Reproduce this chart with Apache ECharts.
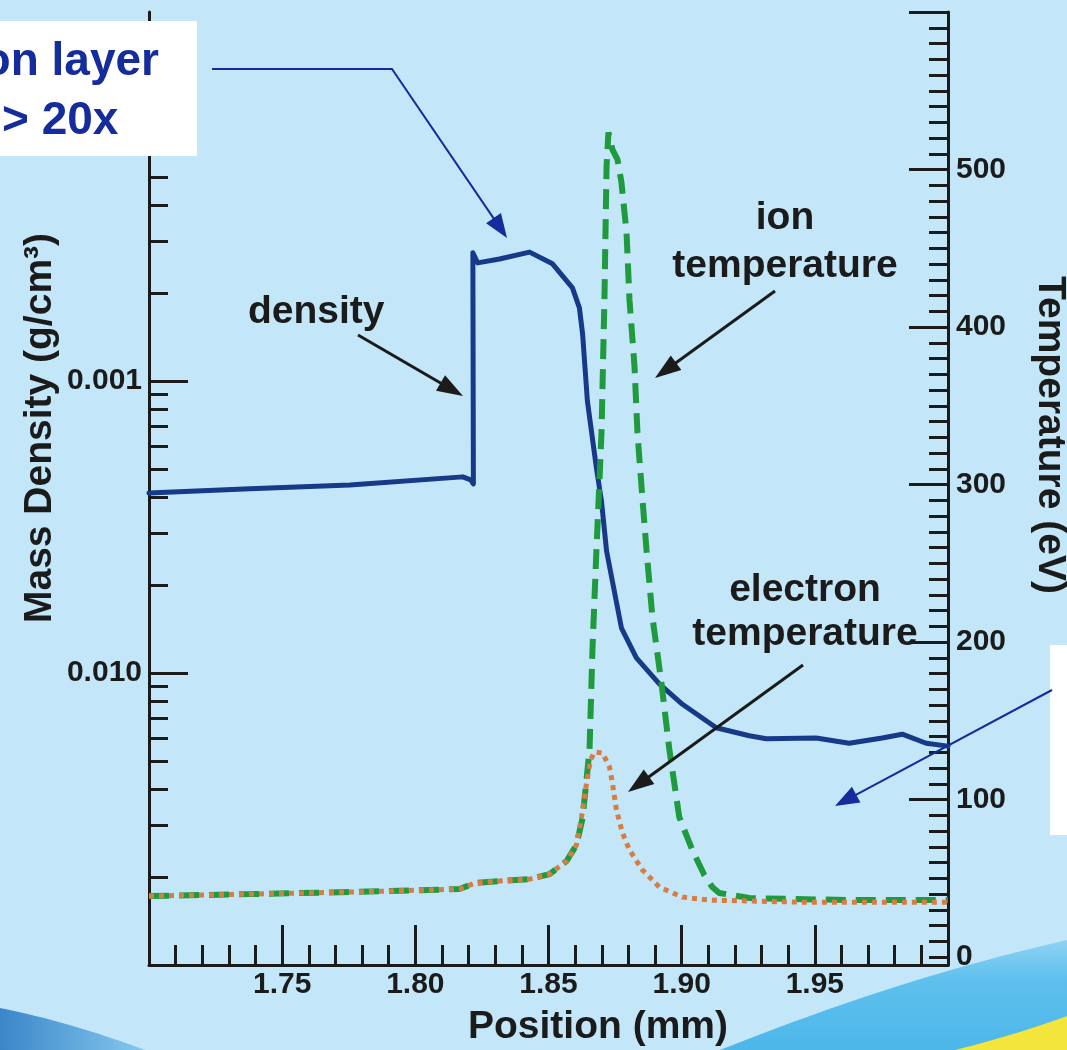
<!DOCTYPE html>
<html>
<head>
<meta charset="utf-8">
<script src="https://cdn.jsdelivr.net/npm/echarts@6/dist/echarts.min.js"></script>
<style>
  html, body { margin: 0; padding: 0; background: #c3e7f8; }
  #chart { width: 1067px; height: 1050px; }
</style>
</head>
<body>
<div id="chart"></div>
<script>
// position (mm) and mass density (g/cm3)
const densityPos = [1.7000, 1.7379, 1.7754, 1.8178, 1.8208, 1.8218, 1.8216, 1.8234, 1.8316, 1.8429,
  1.8515, 1.8590, 1.8616, 1.8628, 1.8646, 1.8680, 1.8699, 1.8718, 1.8774, 1.8830,
  1.8916, 1.9003, 1.9130, 1.9254, 1.9318, 1.9505, 1.9629, 1.9753, 1.9828, 1.9918, 2.0000];
const densityVal = [2.42e-3, 2.34e-3, 2.27e-3, 2.13e-3, 2.18e-3, 2.25e-3, 3.64e-4, 3.94e-4, 3.82e-4, 3.62e-4,
  3.97e-4, 4.80e-4, 5.62e-4, 6.90e-4, 1.17e-3, 1.99e-3, 2.58e-3, 3.82e-3, 7.02e-3, 8.88e-3,
  1.09e-2, 1.28e-2, 1.54e-2, 1.64e-2, 1.68e-2, 1.67e-2, 1.74e-2, 1.67e-2, 1.62e-2, 1.74e-2, 1.78e-2];

// ion temperature (eV)
const ionPos = [1.7000, 1.7379, 1.7754, 1.8166, 1.8223, 1.8316, 1.8429, 1.8504, 1.8568, 1.8605,
  1.8628, 1.8654, 1.8665, 1.8680, 1.8691, 1.8699, 1.8710, 1.8718, 1.8725, 1.8740,
  1.8759, 1.8774, 1.8793, 1.8804, 1.8823, 1.8834, 1.8853, 1.8868, 1.8890, 1.8924,
  1.8954, 1.8991, 1.9040, 1.9085, 1.9115, 1.9141, 1.9254, 1.9629, 2.0000];
const ionTemp = [38.8, 40.0, 41.3, 43.2, 47.0, 48.3, 49.5, 52.7, 61.0, 71.2,
  88.3, 131.5, 195.0, 258.6, 301.1, 332.9, 417.4, 501.9, 523.5, 512.7,
  506.4, 491.7, 459.9, 417.4, 374.8, 332.9, 290.3, 258.6, 216.0, 174.1,
  131.5, 88.9, 68.0, 52.1, 44.5, 40.7, 37.5, 36.2, 36.2];

// electron temperature (eV)
const elecPos = [1.7000, 1.7379, 1.7754, 1.8166, 1.8223, 1.8316, 1.8429, 1.8504, 1.8568, 1.8605,
  1.8624, 1.8643, 1.8658, 1.8673, 1.8703, 1.8729, 1.8740, 1.8755, 1.8778, 1.8804,
  1.8853, 1.8916, 1.9003, 1.9104, 1.9441, 2.0000];
const elecTemp = [38.8, 40.0, 41.3, 43.2, 47.0, 48.3, 49.5, 52.7, 61.0, 71.2,
  88.9, 110.5, 125.2, 130.2, 129.6, 120.7, 110.5, 93.4, 78.8, 68.0,
  55.3, 44.5, 38.1, 36.2, 34.9, 34.9];

// axis ticks / labels
const densityLabels = [0.001, 0.01];
const densityMajor = [0.0001, 0.001, 0.01];
const densityMinor = [];
[0.001, 0.01, 0.1].forEach(top => {
  for (let k = 2; k <= 9; k++) densityMinor.push(top / k);
});
const tempLabels = [0, 100, 200, 300, 400, 500];
const tempMajor = [100, 200, 300, 400, 500, 600];
const tempMinor = [];
for (let t = 0; t < 600; t += 10) if (t % 100 !== 0 || t === 0) tempMinor.push(t);

const FONT = '"Liberation Sans", Arial, Helvetica, sans-serif';
const INK = '#1b1b1b';
const NAVY = '#152c9c';

const zip = (a, b) => a.map((v, i) => [v, b[i]]);

function arrow(pts, color, lw, headLen, headHalf) {
  const n = pts.length;
  const [x1, y1] = pts[n - 2], [x2, y2] = pts[n - 1];
  const L = Math.hypot(x2 - x1, y2 - y1);
  const ux = (x2 - x1) / L, uy = (y2 - y1) / L;
  const bx = x2 - ux * headLen, by = y2 - uy * headLen;
  const linePts = pts.slice(0, n - 1).concat([[bx + ux * 3, by + uy * 3]]);
  return [
    { type: 'polyline', z: 20, shape: { points: linePts }, style: { stroke: color, lineWidth: lw, fill: null } },
    { type: 'polygon', z: 20, shape: { points: [[x2, y2], [bx - uy * headHalf, by + ux * headHalf], [bx + uy * headHalf, by - ux * headHalf]] },
      style: { fill: color } }
  ];
}

function label(text, x, y, size, color, align, rotation) {
  return {
    type: 'text', z: 20, x: x, y: y, rotation: rotation || 0,
    style: {
      text: text, x: 0, y: 0, fill: color,
      font: 'bold ' + size + 'px ' + FONT,
      align: align || 'center', textAlign: align || 'center',
      verticalAlign: 'middle', textVerticalAlign: 'middle'
    }
  };
}

// quadratic curve sampled into polygon points for the slide decoration
function quad(p0, p1, p2, n) {
  const out = [];
  for (let i = 0; i <= n; i++) {
    const t = i / n, a = (1 - t) * (1 - t), b = 2 * (1 - t) * t, c = t * t;
    out.push([a * p0[0] + b * p1[0] + c * p2[0], a * p0[1] + b * p1[1] + c * p2[1]]);
  }
  return out;
}

const tickLine = { color: INK, width: 3 };
const labelStyle = { color: INK, fontSize: 30, fontWeight: 'bold', fontFamily: FONT };

const chart = echarts.init(document.getElementById('chart'));

const option = {
  animation: false,
  backgroundColor: '#c3e7f8',
  grid: { left: 149, right: 119, top: 12, bottom: 85, containLabel: false },
  xAxis: {
    type: 'value', min: 1.70, max: 2.00, interval: 0.05,
    axisLine: { onZero: false, lineStyle: tickLine },
    axisTick: { inside: true, length: 40, lineStyle: tickLine },
    minorTick: { show: true, splitNumber: 5, length: 20, lineStyle: tickLine },
    axisLabel: Object.assign({ showMinLabel: false, showMaxLabel: false, margin: 5,
      formatter: v => v.toFixed(2) }, labelStyle),
    splitLine: { show: false }
  },
  yAxis: [
    {
      type: 'log', inverse: true, min: 5.45e-5, max: 0.1, position: 'left',
      axisLine: { show: true, onZero: false, lineStyle: tickLine },
      axisTick: { inside: true, length: 39, customValues: densityMajor, lineStyle: tickLine },
      axisLabel: Object.assign({ customValues: densityLabels, margin: 7,
        formatter: v => Number(v).toFixed(3) }, labelStyle),
      splitLine: { show: false }
    },
    {
      type: 'log', inverse: true, min: 5.45e-5, max: 0.1, position: 'left',
      axisLine: { show: false, onZero: false },
      axisTick: { inside: true, length: 19, customValues: densityMinor, lineStyle: tickLine },
      axisLabel: { show: false },
      splitLine: { show: false }
    },
    {
      type: 'value', min: -5, max: 600, position: 'right',
      axisLine: { show: true, onZero: false, lineStyle: tickLine },
      axisTick: { inside: true, length: 39, customValues: tempMajor, lineStyle: tickLine },
      axisLabel: Object.assign({ customValues: tempLabels, margin: 8 }, labelStyle),
      splitLine: { show: false }
    },
    {
      type: 'value', min: -5, max: 600, position: 'right',
      axisLine: { show: false, onZero: false },
      axisTick: { inside: true, length: 19, customValues: tempMinor, lineStyle: tickLine },
      axisLabel: { show: false },
      splitLine: { show: false }
    }
  ],
  series: [
    {
      name: 'density', type: 'line', yAxisIndex: 0, data: zip(densityPos, densityVal),
      symbol: 'none', z: 3,
      lineStyle: { color: '#173a88', width: 5, join: 'round', cap: 'round' }
    },
    {
      name: 'ion temperature', type: 'line', yAxisIndex: 2, data: zip(ionPos, ionTemp),
      symbol: 'none', z: 4,
      lineStyle: { color: '#1f9a3e', width: 6, type: [20, 10] }
    },
    {
      name: 'electron temperature', type: 'line', yAxisIndex: 2, data: zip(elecPos, elecTemp),
      symbol: 'none', z: 5,
      lineStyle: { color: '#d77c43', width: 5, type: [5, 5] }
    }
  ],
  graphic: [
    // bottom decoration
    { type: 'polygon', z: 1, shape: { points: quad([0, 1008], [70, 1022], [145, 1050], 16).concat([[0, 1050]]) },
      style: { fill: { type: 'linear', x: 0, y: 0, x2: 1, y2: 0, colorStops: [
        { offset: 0, color: '#3a86c8' }, { offset: 1, color: '#86c9ee' }] } } },
    { type: 'polygon', z: 1, shape: { points: quad([720, 1050], [900, 978], [1067, 940], 20).concat([[1067, 1050]]) },
      style: { fill: { type: 'linear', x: 0, y: 0, x2: 0, y2: 1, colorStops: [
        { offset: 0, color: '#8fd3f3' }, { offset: 0.35, color: '#5fc0ee' }, { offset: 1, color: '#4db7ea' }] } } },
    { type: 'polygon', z: 1, shape: { points: quad([955, 1050], [1015, 1035], [1067, 1016], 12).concat([[1067, 1050]]) },
      style: { fill: '#f3e53c' } },

    // axis titles
    label('Mass Density (g/cm\u00B3)', 40, 428, 39, INK, 'center', Math.PI / 2),
    label('Temperature (eV)', 1050, 435, 39, INK, 'center', -Math.PI / 2),
    label('Position (mm)', 598, 1027, 39, INK, 'center'),

    // annotations
    label('density', 248, 312, 39, INK, 'left'),
    ...arrow([[358, 335], [463, 396]], INK, 3, 26, 9),
    label('ion', 785, 218, 39, INK, 'center'),
    label('temperature', 785, 266, 39, INK, 'center'),
    ...arrow([[775, 291], [655, 378]], INK, 3, 26, 9),
    label('electron', 805, 590, 39, INK, 'center'),
    label('temperature', 805, 634, 39, INK, 'center'),
    ...arrow([[803, 665], [628, 792]], INK, 3, 26, 9),

    { type: 'rect', z: 15, shape: { x: 0, y: 21, width: 197, height: 135 }, style: { fill: '#ffffff' } },
    label('on layer', 159, 62, 46, NAVY, 'right'),
    label('> 20x', 2, 121, 46, NAVY, 'left'),
    ...arrow([[212, 69], [392, 69], [507, 238]], NAVY, 2, 24, 9),

    { type: 'rect', z: 15, shape: { x: 1050, y: 645, width: 17, height: 190 }, style: { fill: '#ffffff' } },
    ...arrow([[1052, 690], [835, 806]], NAVY, 2, 24, 9)
  ]
};

chart.setOption(option);
</script>
</body>
</html>
